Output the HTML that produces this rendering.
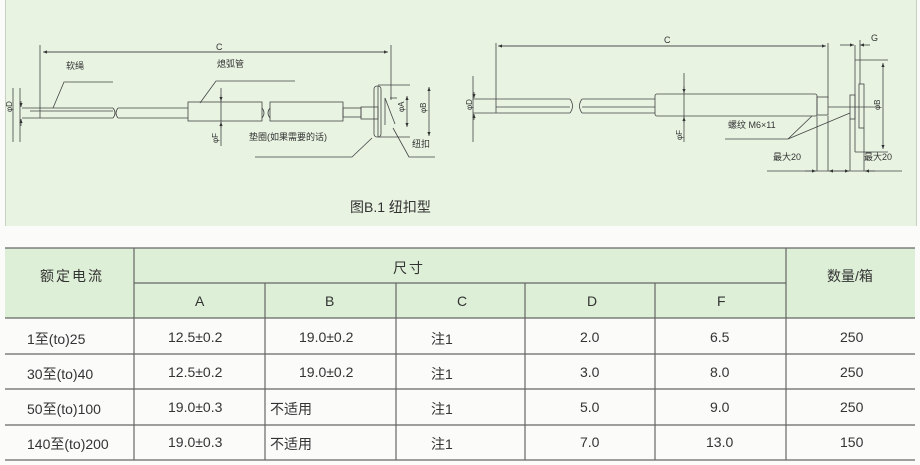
<!DOCTYPE html>
<html><head><meta charset="utf-8"><style>
body{margin:0;width:920px;height:465px;background:#fbfcfa;position:relative;overflow:hidden;font-family:"Liberation Sans","Noto Sans CJK SC",sans-serif;color:#333}
.t{position:absolute;font-size:14px;white-space:nowrap}
</style></head><body>
<div style="position:absolute;left:5px;top:0;width:910px;height:226px;background:#e8f3e2;border-left:1px solid #c8d0c4;border-right:1px solid #c8d0c4"></div>
<svg width="920" height="226" style="position:absolute;left:0;top:0" fill="none" stroke="#444" stroke-width="0.8" font-family="Liberation Sans,Noto Sans CJK SC,sans-serif">
<defs><marker id="a" markerWidth="6" markerHeight="6" refX="5" refY="3" orient="auto"><path d="M0,1L5,3L0,5z" fill="#333" stroke="none"/></marker></defs>
<!-- left diagram -->
<line x1="40" y1="45" x2="40" y2="118"/><line x1="391" y1="45" x2="391" y2="100"/>
<line x1="45" y1="52" x2="388" y2="52" marker-end="url(#a)"/><line x1="386" y1="52" x2="43" y2="52" marker-end="url(#a)"/>
<text x="216" y="50" fill="#333" stroke="none" font-size="9">C</text>
<text x="66" y="69" fill="#333" stroke="none" font-size="9">软绳</text>
<polyline points="53,108 64,82 113,82"/>
<text x="217" y="67" fill="#333" stroke="none" font-size="9">熄弧管</text>
<polyline points="200,103 216,81 295,81"/>
<line x1="22" y1="108" x2="113" y2="108"/><line x1="22" y1="118" x2="113" y2="118"/><line x1="30" y1="111" x2="113" y2="111"/>
<path d="M113,108 q4,5 0,10 M118,108 q-4,5 0,10"/>
<line x1="118" y1="108" x2="188" y2="108"/><line x1="118" y1="118" x2="188" y2="118"/>
<rect x="188" y="102" width="74" height="19"/><path d="M262,108 q4,5 0,10 M270,108 q-4,5 0,10"/>
<rect x="270" y="102" width="73" height="19"/>
<rect x="343" y="108" width="18" height="9"/><rect x="361" y="107" width="17" height="12"/>
<rect x="374" y="86" width="7" height="51" rx="3"/>
<polyline points="378,85 410,85"/><polyline points="378,137 410,137"/><line x1="378" y1="86" x2="378" y2="137"/>
<polyline points="390,98 397,98"/><polyline points="385,98 395,124"/><line x1="385" y1="98" x2="385" y2="125"/>
<line x1="13" y1="88" x2="13" y2="142"/><line x1="20" y1="88" x2="20" y2="142"/>
<text x="12" y="112" fill="#333" stroke="none" font-size="8" transform="rotate(-90 12 112)">φD</text>
<line x1="21" y1="101" x2="21" y2="107" marker-end="url(#a)"/><line x1="21" y1="126" x2="21" y2="119" marker-end="url(#a)"/>
<line x1="221" y1="88" x2="221" y2="146"/><line x1="221" y1="95" x2="221" y2="101" marker-end="url(#a)"/><line x1="221" y1="128" x2="221" y2="122" marker-end="url(#a)"/>
<text x="218" y="143" fill="#333" stroke="none" font-size="8" transform="rotate(-90 218 143)">φF</text>
<text x="249" y="140" fill="#333" stroke="none" font-size="9">垫圈(如果需要的话)</text>
<polyline points="255,157 352,157 372,138"/>
<line x1="407" y1="100" x2="407" y2="96" marker-end="url(#a)"/><line x1="407" y1="100" x2="407" y2="127" marker-end="url(#a)"/>
<text x="404" y="112" fill="#333" stroke="none" font-size="8" transform="rotate(-90 404 112)">φA</text>
<line x1="429" y1="110" x2="429" y2="87" marker-end="url(#a)"/><line x1="429" y1="110" x2="429" y2="136" marker-end="url(#a)"/>
<text x="426" y="113" fill="#333" stroke="none" font-size="8" transform="rotate(-90 426 113)">φB</text>
<text x="412" y="147" fill="#333" stroke="none" font-size="9">纽扣</text>
<polyline points="393,128 409,157 435,157"/>
<text x="350" y="212" fill="#333" stroke="none" font-size="14">图B.1 纽扣型</text>
<!-- right diagram -->
<line x1="496" y1="43" x2="496" y2="113"/><line x1="828" y1="43" x2="828" y2="98"/>
<line x1="500" y1="46" x2="826" y2="46" marker-end="url(#a)"/><line x1="824" y1="46" x2="498" y2="46" marker-end="url(#a)"/>
<text x="664" y="43" fill="#333" stroke="none" font-size="9">C</text>
<line x1="473" y1="99" x2="570" y2="99"/><line x1="473" y1="113" x2="570" y2="113"/><line x1="496" y1="107" x2="570" y2="107"/>
<path d="M570,99 q5,7 0,14 M582,99 q-5,7 0,14"/>
<line x1="582" y1="99" x2="655" y2="99"/><line x1="582" y1="113" x2="655" y2="113"/><line x1="582" y1="107" x2="655" y2="107"/>
<rect x="655" y="94" width="162" height="22" rx="2"/><rect x="817" y="97" width="11" height="18"/>
<line x1="828" y1="107" x2="880" y2="107"/>
<rect x="850" y="95" width="5" height="24"/><line x1="855" y1="45" x2="855" y2="152"/><line x1="855" y1="60" x2="888" y2="60"/><line x1="855" y1="152" x2="888" y2="152"/>
<rect x="859" y="84" width="5" height="44"/>
<line x1="473" y1="76" x2="473" y2="142"/><line x1="474" y1="92" x2="474" y2="98" marker-end="url(#a)"/><line x1="474" y1="120" x2="474" y2="114" marker-end="url(#a)"/>
<text x="472" y="110" fill="#333" stroke="none" font-size="8" transform="rotate(-90 472 110)">φD</text>
<line x1="684" y1="73" x2="684" y2="142"/><line x1="684" y1="86" x2="684" y2="93" marker-end="url(#a)"/><line x1="684" y1="123" x2="684" y2="117" marker-end="url(#a)"/>
<text x="682" y="140" fill="#333" stroke="none" font-size="8" transform="rotate(-90 682 140)">φF</text>
<text x="728" y="128" fill="#333" stroke="none" font-size="9">螺纹 M6×11</text>
<polyline points="725,139 788,139 812,116"/><line x1="788" y1="139" x2="850" y2="113"/>
<text x="773" y="160" fill="#333" stroke="none" font-size="9">最大20</text>
<text x="864" y="160" fill="#333" stroke="none" font-size="9">最大20</text>
<line x1="883" y1="100" x2="883" y2="63" marker-end="url(#a)"/><line x1="883" y1="100" x2="883" y2="149" marker-end="url(#a)"/>
<text x="880" y="110" fill="#333" stroke="none" font-size="8" transform="rotate(-90 880 110)">φB</text>
<line x1="817" y1="116" x2="817" y2="171"/><line x1="828" y1="116" x2="828" y2="171"/><line x1="850" y1="119" x2="850" y2="171"/><line x1="864" y1="128" x2="864" y2="171"/>
<line x1="767" y1="171" x2="902" y2="171"/>
<line x1="805" y1="171" x2="816" y2="171" marker-end="url(#a)"/><line x1="840" y1="171" x2="829" y2="171" marker-end="url(#a)"/>
<line x1="840" y1="171" x2="849" y2="171" marker-end="url(#a)"/><line x1="875" y1="171" x2="865" y2="171" marker-end="url(#a)"/>
<line x1="840" y1="45" x2="854" y2="45" marker-end="url(#a)"/><line x1="870" y1="45" x2="860" y2="45" marker-end="url(#a)"/><line x1="860" y1="40" x2="860" y2="84"/>
<text x="871" y="41" fill="#333" stroke="none" font-size="9">G</text>
</svg>
<svg width="920" height="465" style="position:absolute;left:0;top:0">
<rect x="5" y="248" width="910" height="70" fill="#ddefd6"/>
<g stroke="#666" stroke-width="1.2">
<line x1="5" y1="248" x2="915" y2="248"/><line x1="134" y1="283" x2="786" y2="283"/>
<line x1="5" y1="318" x2="915" y2="318"/><line x1="5" y1="354" x2="915" y2="354"/><line x1="5" y1="389" x2="915" y2="389"/><line x1="5" y1="425" x2="915" y2="425"/><line x1="5" y1="460" x2="915" y2="460"/>
<line x1="134" y1="248" x2="134" y2="460"/><line x1="786" y1="248" x2="786" y2="460"/>
<line x1="265" y1="283" x2="265" y2="460"/><line x1="396" y1="283" x2="396" y2="460"/><line x1="525" y1="283" x2="525" y2="460"/><line x1="655" y1="283" x2="655" y2="460"/>
</g></svg>
<div class="t" style="left:40px;top:266px;letter-spacing:2px">额定电流</div>
<div class="t" style="left:393px;top:258px;letter-spacing:2px">尺寸</div>
<div class="t" style="left:827px;top:266px">数量/箱</div>
<div class="t" style="left:195px;top:293px">A</div><div class="t" style="left:325px;top:293px">B</div><div class="t" style="left:457px;top:293px">C</div><div class="t" style="left:587px;top:293px">D</div><div class="t" style="left:717px;top:293px">F</div>
<div class="t" style="left:27px;top:329px">1至(to)25</div><div class="t" style="left:168px;top:329px">12.5±0.2</div><div class="t" style="left:299px;top:329px">19.0±0.2</div><div class="t" style="left:431px;top:329px">注1</div><div class="t" style="left:580px;top:329px">2.0</div><div class="t" style="left:710px;top:329px">6.5</div><div class="t" style="left:840px;top:329px">250</div>
<div class="t" style="left:27px;top:364px">30至(to)40</div><div class="t" style="left:168px;top:364px">12.5±0.2</div><div class="t" style="left:299px;top:364px">19.0±0.2</div><div class="t" style="left:431px;top:364px">注1</div><div class="t" style="left:580px;top:364px">3.0</div><div class="t" style="left:710px;top:364px">8.0</div><div class="t" style="left:840px;top:364px">250</div>
<div class="t" style="left:27px;top:399px">50至(to)100</div><div class="t" style="left:168px;top:399px">19.0±0.3</div><div class="t" style="left:270px;top:399px">不适用</div><div class="t" style="left:431px;top:399px">注1</div><div class="t" style="left:580px;top:399px">5.0</div><div class="t" style="left:710px;top:399px">9.0</div><div class="t" style="left:840px;top:399px">250</div>
<div class="t" style="left:27px;top:434px">140至(to)200</div><div class="t" style="left:168px;top:434px">19.0±0.3</div><div class="t" style="left:270px;top:434px">不适用</div><div class="t" style="left:431px;top:434px">注1</div><div class="t" style="left:580px;top:434px">7.0</div><div class="t" style="left:706px;top:434px">13.0</div><div class="t" style="left:840px;top:434px">150</div>
</body></html>
